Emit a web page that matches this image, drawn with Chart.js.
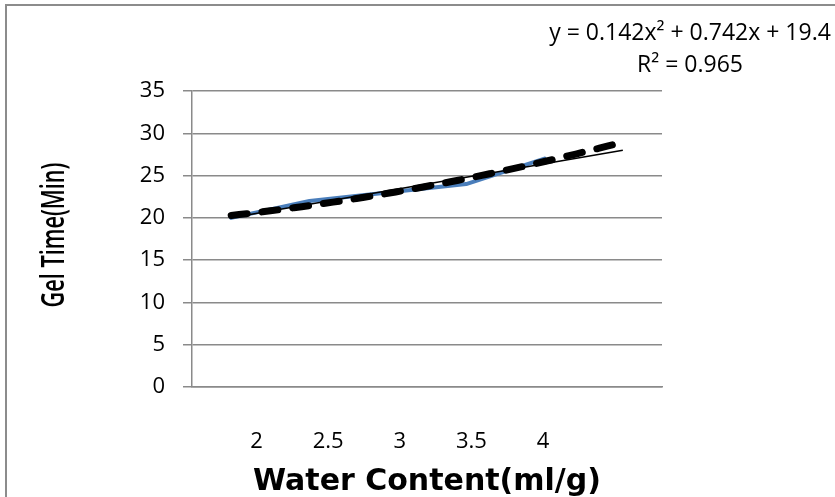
<!DOCTYPE html>
<html>
<head>
<meta charset="utf-8">
<title>Gel Time vs Water Content</title>
<script src="https://cdn.jsdelivr.net/npm/chart.js@4.4.1/dist/chart.umd.min.js"></script>
<style>
  html, body { margin: 0; padding: 0; background: #fff; overflow: hidden; }
  #wrap { position: relative; width: 835px; height: 497px; overflow: hidden; }
  #frame { position: absolute; left: 5px; top: 4px; width: 900px; height: 600px; border: 2px solid #8c8c8c; box-sizing: border-box; }
  canvas { position: absolute; left: 0; top: 0; }
</style>
</head>
<body>
<div id="wrap">
  <div id="frame"></div>
  <canvas id="gelChart" width="835" height="497"></canvas>
</div>
<script>
// Gel time readings, one per sample
const samples = [1, 2, 3, 4, 5];
const gelTime = [20, 22, 23, 24, 27];
// Water content values printed under the plot
const waterTicks = [2, 2.5, 3, 3.5, 4];
const yTicks = [0, 5, 10, 15, 20, 25, 30, 35];
// Quadratic trend from the label: c0 + c1*x + c2*x^2
const polyCoef = [19.4, 0.742, 0.142];
const polyR2 = 0.965;
const forecast = 1; // trendlines run one sample past the data

const gridGray = '#8a8a8a';
const tickFont = { family: '"Open Sans", sans-serif', size: 22 };

// least squares straight line through the readings
function linearFit(xs, ys) {
    const n = xs.length;
    const mx = xs.reduce((a, b) => a + b, 0) / n;
    const my = ys.reduce((a, b) => a + b, 0) / n;
    let sxy = 0, sxx = 0;
    xs.forEach((x, i) => {
        sxy += (x - mx) * (ys[i] - my);
        sxx += (x - mx) * (x - mx);
    });
    const slope = sxy / sxx;
    return { slope: slope, intercept: my - slope * mx };
}

const xFirst = samples[0];
const xLast = samples[samples.length - 1] + forecast;

const lin = linearFit(samples, gelTime);
const linPoints = [xFirst, xLast].map(x => ({ x: x, y: lin.intercept + lin.slope * x }));

// the quadratic is drawn as a smooth curve
const polyPoints = [];
for (let k = 0; k <= (xLast - xFirst) * 10; k++) {
    const x = xFirst + k / 10;
    polyPoints.push({ x: x, y: polyCoef[0] + polyCoef[1] * x + polyCoef[2] * x * x });
}

// axis title and trendline label
const extraText = {
    id: 'extraText',
    afterDraw(chart) {
        const { ctx, chartArea } = chart;
        ctx.save();
        ctx.fillStyle = '#000';

        // rotated, narrow y title
        ctx.translate(55, (chartArea.top + chartArea.bottom) / 2 - 4);
        ctx.rotate(-Math.PI / 2);
        ctx.font = '600 32px "Open Sans", sans-serif';
        ctx.textAlign = 'center';
        ctx.textBaseline = 'middle';
        const title = 'Gel Time(Min)';
        const w = ctx.measureText(title).width;
        ctx.scale(145 / w, 1);
        ctx.fillText(title, 0, 0);
        ctx.restore();

        ctx.save();
        ctx.fillStyle = '#000';
        ctx.font = '23px "Open Sans", sans-serif';
        ctx.textAlign = 'center';
        ctx.textBaseline = 'middle';
        const cx = chartArea.right + 28;
        ctx.fillText('y = ' + polyCoef[2] + 'x\u00B2 + ' + polyCoef[1] + 'x + ' + polyCoef[0], cx, chartArea.top - 58);
        ctx.fillText('R\u00B2 = ' + polyR2, cx, chartArea.top - 26);
        ctx.restore();
    }
};

new Chart(document.getElementById('gelChart'), {
    type: 'line',
    data: {
        datasets: [
            {
                label: 'Poly. (Gel Time)',
                data: polyPoints,
                borderColor: '#000',
                borderWidth: 7,
                borderDash: [16, 15],
                borderCapStyle: 'round',
                pointRadius: 0,
                order: 0
            },
            {
                label: 'Linear (Gel Time)',
                data: linPoints,
                borderColor: '#000',
                borderWidth: 1.5,
                pointRadius: 0,
                order: 1
            },
            {
                label: 'Gel Time',
                data: samples.map((x, i) => ({ x: x, y: gelTime[i] })),
                borderColor: '#4a7ebb',
                borderWidth: 4,
                borderJoinStyle: 'round',
                borderCapStyle: 'round',
                pointRadius: 0,
                order: 2
            }
        ]
    },
    options: {
        responsive: false,
        animation: false,
        layout: { padding: { left: 0, right: 173, top: 91, bottom: 0 } },
        plugins: {
            legend: { display: false },
            tooltip: { enabled: false }
        },
        scales: {
            x: {
                type: 'linear',
                position: 'bottom',
                weight: 0,
                min: xFirst - 0.5,
                max: xLast + 0.5,
                ticks: { display: false },
                grid: { display: false, drawTicks: false },
                border: { display: true, color: gridGray, width: 1.5 },
                afterFit: scale => { scale.height = 0; }
            },
            xw: {
                type: 'linear',
                position: 'bottom',
                weight: 1,
                min: 1.55,
                max: 4.83,
                afterBuildTicks: scale => { scale.ticks = waterTicks.map(v => ({ value: v })); },
                ticks: {
                    font: tickFont,
                    color: '#000',
                    padding: 42,
                    maxRotation: 0,
                    autoSkip: false,
                    callback: v => String(v)
                },
                grid: { display: false, drawTicks: false },
                border: { display: false },
                title: {
                    display: true,
                    text: 'Water Content(ml/g)',
                    color: '#000',
                    font: { family: '"DejaVu Sans", sans-serif', size: 30, weight: 'bold', lineHeight: 1 },
                    padding: { top: 0, bottom: 0 }
                },
                afterFit: scale => { scale.height = 110; }
            },
            y: {
                min: 0,
                max: 35,
                afterBuildTicks: scale => { scale.ticks = yTicks.map(v => ({ value: v })); },
                ticks: { font: tickFont, color: '#000', padding: 18 },
                grid: { color: gridGray, lineWidth: 1.5, tickLength: 9 },
                border: { color: gridGray, width: 1.5 },
                afterFit: scale => { scale.width = 192; }
            }
        }
    },
    plugins: [extraText]
});
</script>
</body>
</html>
